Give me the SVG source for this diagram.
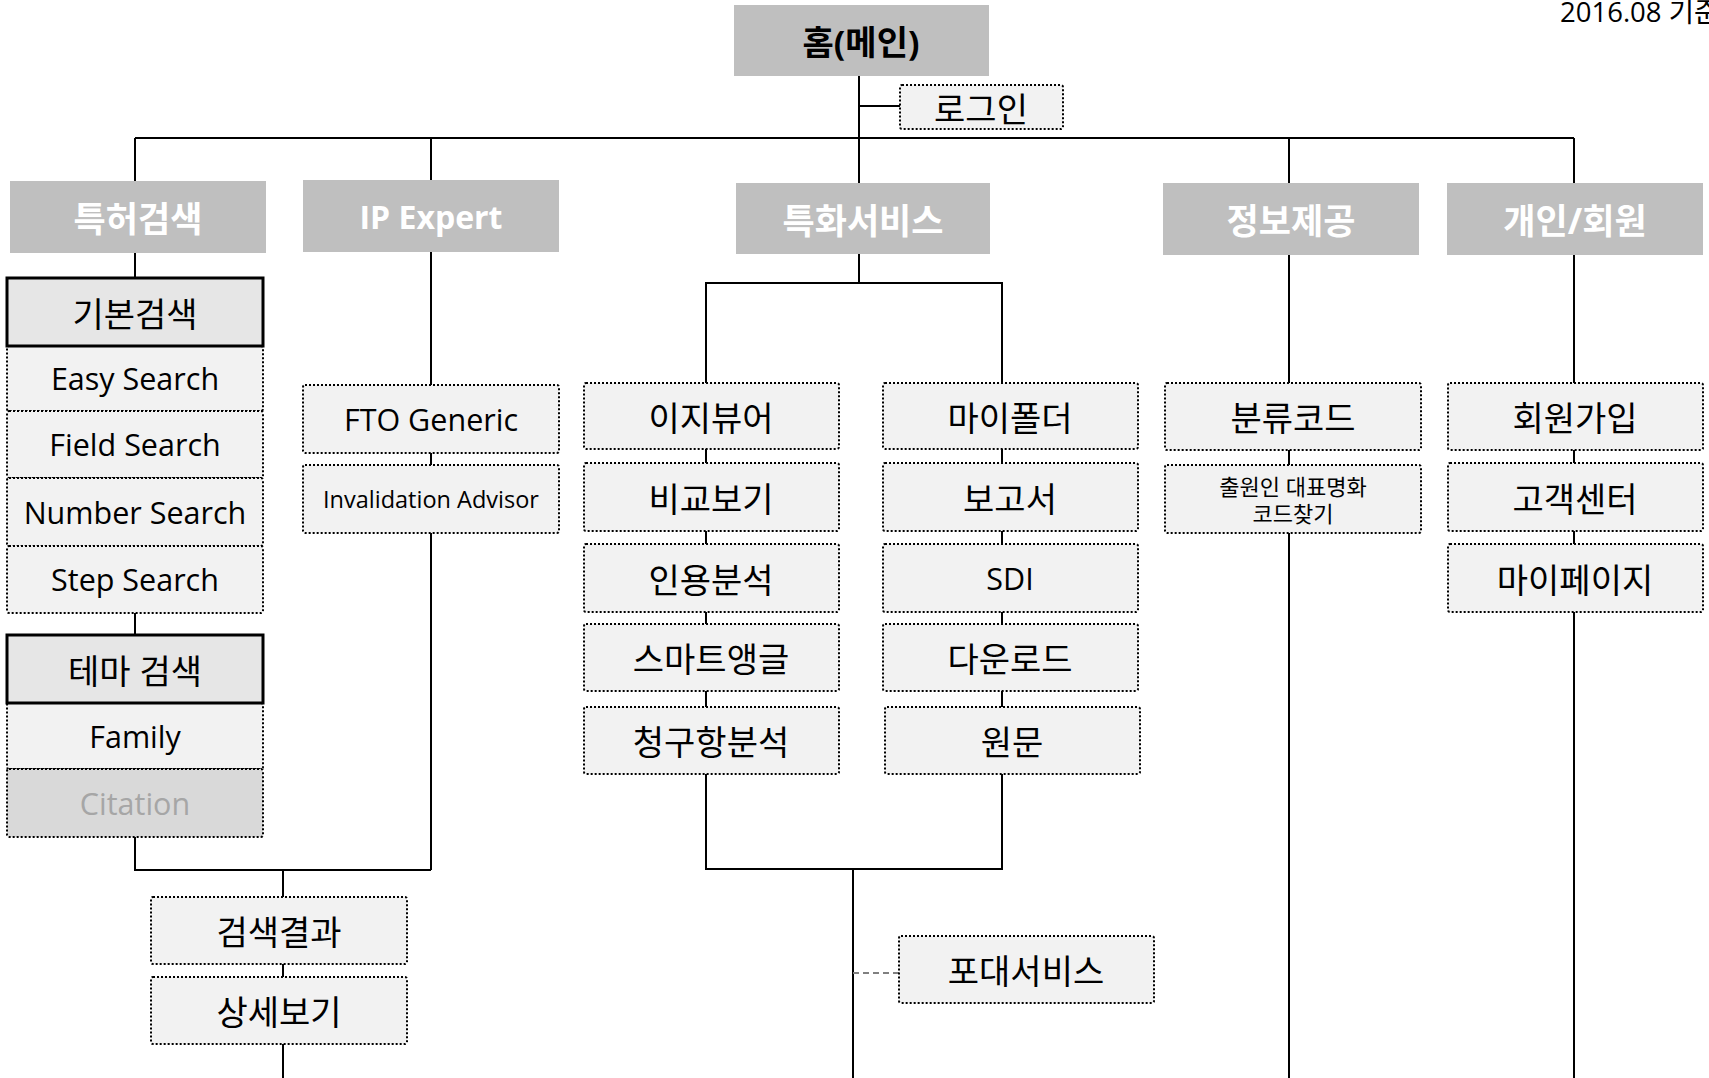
<svg xmlns="http://www.w3.org/2000/svg" width="1709" height="1078" viewBox="0 0 1709 1078">
<style>
.t{font-family:"Open Sans","Noto Sans CJK KR",sans-serif;font-size:30.5px;fill:#000;text-anchor:middle;dominant-baseline:central}
.kr{font-size:34px}
.h{fill:#bfbfbf}
.b{font-weight:bold}
.w{fill:#fff}
.d{fill:#f2f2f2;stroke:#000;stroke-width:2;stroke-dasharray:2 2}
.k{fill:#e6e6e6;stroke:#000;stroke-width:3}
.c{stroke:#000;stroke-width:2;fill:none}
.dash{stroke:#808080;stroke-width:2;stroke-dasharray:6 4;fill:none}
</style>
<g id="connectors">
<path class="c" d="M859 76V183M859 106H900M135 138H1574M135 138V181M431 138V180M1289 138V183M1574 138V183"/>
<path class="c" d="M135 253V278M135 613V635M135 837V870H431M431 252V385M431 453V465M431 533V870M283 870V897M283 964V977M283 1044V1078"/>
<path class="c" d="M859 254V283M706 383V283H1002V383M706 449V463M706 531V544M706 612V624M706 691V707M706 774V869H1002V774M1002 449V463M1002 531V544M1002 612V624M1002 691V707M853 869V1078"/>
<path class="dash" d="M853 973H899"/>
<path class="c" d="M1289 255V383M1289 450V465M1289 533V1078M1574 255V383M1574 450V463M1574 531V544M1574 612V1078"/>
</g>
<text class="t" x="1560" y="22" style="font-size:27.5px;text-anchor:start;dominant-baseline:alphabetic">2016.08 기준</text>
<g id="home"><rect class="h" x="734" y="5" width="255" height="71"/><text class="t b kr" x="861" y="42">홈(메인)</text></g>
<g id="login"><rect class="d" x="900" y="85" width="163" height="44" rx="2"/><text class="t kr" x="981" y="109">로그인</text></g>
<g id="patent-search"><rect class="h" x="10" y="181" width="256" height="72"/><text class="t b w" x="138" y="218" style="font-size:35px">특허검색</text></g>
<g id="ip-expert"><rect class="h" x="303" y="180" width="256" height="72"/><text class="t b w" x="431" y="216" style="font-size:32px">IP Expert</text></g>
<g id="special-service"><rect class="h" x="736" y="183" width="254" height="71"/><text class="t b w" x="863" y="220" style="font-size:35px">특화서비스</text></g>
<g id="info"><rect class="h" x="1163" y="183" width="256" height="72"/><text class="t b w" x="1291" y="220" style="font-size:35px">정보제공</text></g>
<g id="member"><rect class="h" x="1447" y="183" width="256" height="72"/><text class="t b w" x="1575" y="220" style="font-size:35px">개인/회원</text></g>

<g id="easy-search"><rect class="d" x="7" y="346" width="256" height="65" rx="2"/><text class="t" x="135" y="378">Easy Search</text></g>
<g id="field-search"><rect class="d" x="7" y="411" width="256" height="67" rx="2"/><text class="t" x="135" y="444">Field Search</text></g>
<g id="number-search"><rect class="d" x="7" y="478" width="256" height="68" rx="2"/><text class="t" x="135" y="512">Number Search</text></g>
<g id="step-search"><rect class="d" x="7" y="546" width="256" height="67" rx="2"/><text class="t" x="135" y="579">Step Search</text></g>
<g id="basic-search"><rect class="k" x="7" y="278" width="256" height="68"/><text class="t kr" x="135" y="314">기본검색</text></g>
<g id="family"><rect class="d" x="7" y="703" width="256" height="66" rx="2"/><text class="t" x="135" y="736">Family</text></g>
<g id="citation"><rect class="d" x="7" y="769" width="256" height="68" rx="2" style="fill:#d9d9d9"/><text class="t" x="135" y="803" style="fill:#a6a6a6">Citation</text></g>
<g id="theme-search"><rect class="k" x="7" y="635" width="256" height="68"/><text class="t kr" x="135" y="671">테마 검색</text></g>

<g id="fto"><rect class="d" x="303" y="385" width="256" height="68" rx="2"/><text class="t" x="431" y="419">FTO Generic</text></g>
<g id="invalidation"><rect class="d" x="303" y="465" width="256" height="68" rx="2"/><text class="t" x="431" y="499" style="font-size:23.5px">Invalidation Advisor</text></g>

<g id="easyviewer"><rect class="d" x="584" y="383" width="255" height="66" rx="2"/><text class="t kr" x="711" y="418">이지뷰어</text></g>
<g id="compare"><rect class="d" x="584" y="463" width="255" height="68" rx="2"/><text class="t kr" x="711" y="499">비교보기</text></g>
<g id="citation-analysis"><rect class="d" x="584" y="544" width="255" height="68" rx="2"/><text class="t kr" x="711" y="580">인용분석</text></g>
<g id="smart-angle"><rect class="d" x="584" y="624" width="255" height="67" rx="2"/><text class="t kr" x="711" y="659">스마트앵글</text></g>
<g id="claim-analysis"><rect class="d" x="584" y="707" width="255" height="67" rx="2"/><text class="t kr" x="711" y="742">청구항분석</text></g>

<g id="myfolder"><rect class="d" x="883" y="383" width="255" height="66" rx="2"/><text class="t kr" x="1010" y="418">마이폴더</text></g>
<g id="report"><rect class="d" x="883" y="463" width="255" height="68" rx="2"/><text class="t kr" x="1010" y="499">보고서</text></g>
<g id="sdi"><rect class="d" x="883" y="544" width="255" height="68" rx="2"/><text class="t" x="1010" y="578">SDI</text></g>
<g id="download"><rect class="d" x="883" y="624" width="255" height="67" rx="2"/><text class="t kr" x="1010" y="659">다운로드</text></g>
<g id="original"><rect class="d" x="885" y="707" width="255" height="67" rx="2"/><text class="t kr" x="1012" y="742">원문</text></g>

<g id="class-code"><rect class="d" x="1165" y="383" width="256" height="67" rx="2"/><text class="t kr" x="1293" y="418">분류코드</text></g>
<g id="applicant-code"><rect class="d" x="1165" y="465" width="256" height="68" rx="2"/><text class="t" x="1293" y="486" style="font-size:22px">출원인 대표명화</text><text class="t" x="1293" y="513" style="font-size:22px">코드찾기</text></g>

<g id="join"><rect class="d" x="1448" y="383" width="255" height="67" rx="2"/><text class="t kr" x="1575" y="418">회원가입</text></g>
<g id="customer"><rect class="d" x="1448" y="463" width="255" height="68" rx="2"/><text class="t kr" x="1575" y="499">고객센터</text></g>
<g id="mypage"><rect class="d" x="1448" y="544" width="255" height="68" rx="2"/><text class="t kr" x="1575" y="580">마이페이지</text></g>

<g id="search-result"><rect class="d" x="151" y="897" width="256" height="67" rx="2"/><text class="t kr" x="279" y="932">검색결과</text></g>
<g id="detail"><rect class="d" x="151" y="977" width="256" height="67" rx="2"/><text class="t kr" x="279" y="1012">상세보기</text></g>
<g id="podae"><rect class="d" x="899" y="936" width="255" height="67" rx="2"/><text class="t kr" x="1026" y="971">포대서비스</text></g>
</svg>
